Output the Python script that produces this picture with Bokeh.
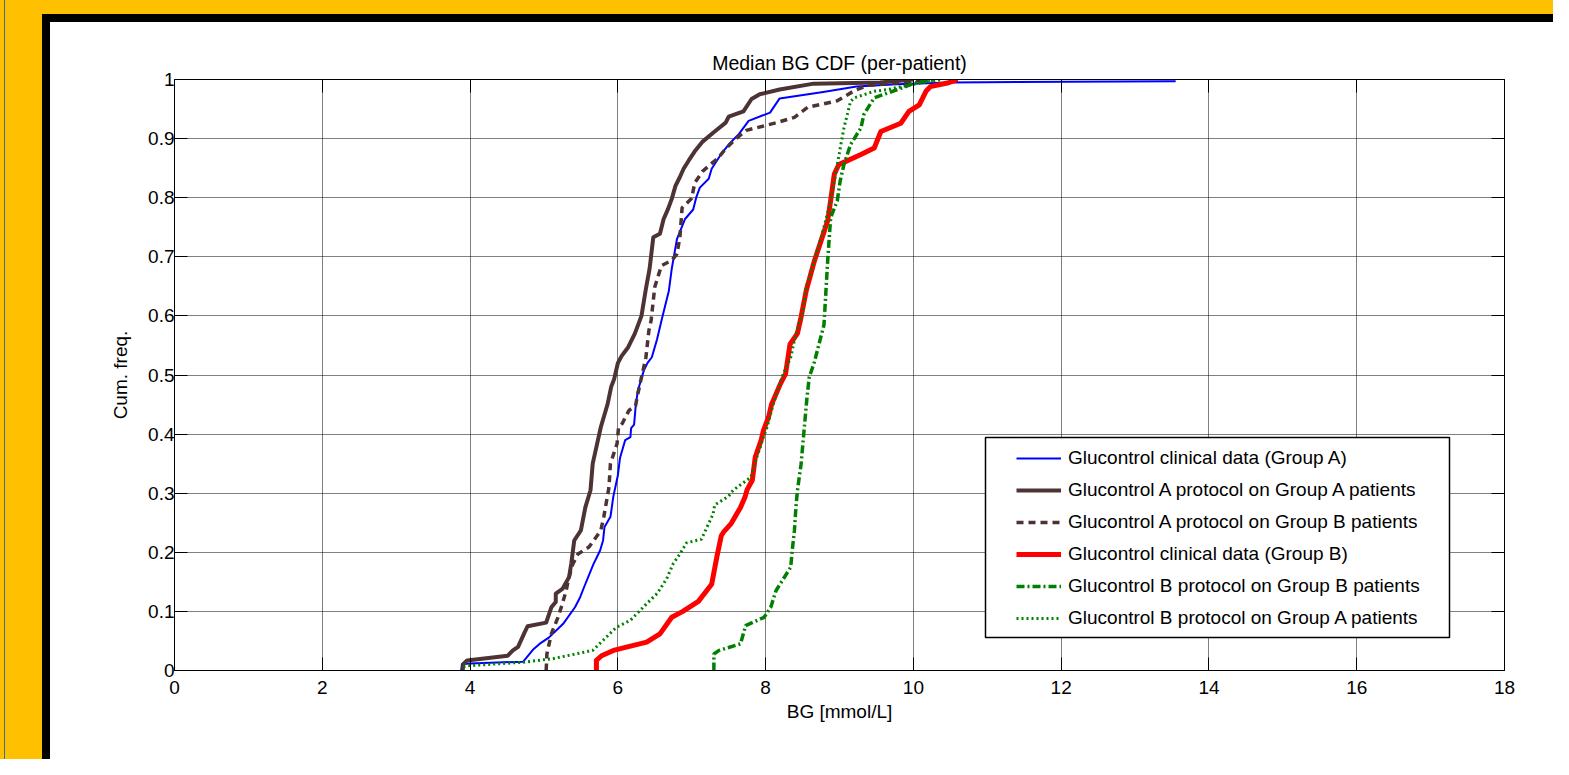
from bokeh.plotting import figure
from bokeh.models import (Range1d, FixedTicker, LinearAxis, Legend, LegendItem,
                          BoxAnnotation, Spacer)
from bokeh.layouts import row, column
from bokeh.embed import file_html
from bokeh.resources import INLINE

# ---------------- data ----------------
title_text = "Median BG CDF (per-patient)"
x_label = "BG [mmol/L]"
y_label = "Cum. freq."
x_ticks = [0, 2, 4, 6, 8, 10, 12, 14, 16, 18]
y_ticks = [0, 0.1, 0.2, 0.3, 0.4, 0.5, 0.6, 0.7, 0.8, 0.9, 1]
y_tick_labels = ["0", "0.1", "0.2", "0.3", "0.4", "0.5", "0.6", "0.7", "0.8", "0.9", "1"]

series_names = [
    "Glucontrol clinical data (Group A)",
    "Glucontrol A protocol on Group A patients",
    "Glucontrol A protocol on Group B patients",
    "Glucontrol clinical data (Group B)",
    "Glucontrol B protocol on Group B patients",
    "Glucontrol B protocol on Group A patients",
]

clinA_x = [3.88, 3.89, 4.00, 4.72, 4.85, 4.94, 5.07, 5.26, 5.42, 5.49, 5.54, 5.67, 5.76, 5.80,
           5.82, 5.90, 5.94, 6.00, 6.03, 6.10, 6.17, 6.18, 6.22, 6.24, 6.27, 6.35, 6.40, 6.46,
           6.53, 6.60, 6.69, 6.73, 6.80, 6.91, 7.02, 7.06, 7.11, 7.23, 7.27, 7.41, 7.50, 7.64,
           7.77, 8.06, 8.19, 8.78, 9.23, 9.77, 10.5, 13.55]
clinA_y = [0.0, 0.011, 0.012, 0.015, 0.035, 0.045, 0.056, 0.079, 0.107, 0.124, 0.14, 0.18, 0.203,
           0.22, 0.243, 0.26, 0.295, 0.33, 0.36, 0.39, 0.395, 0.41, 0.416, 0.445, 0.473, 0.507,
           0.52, 0.53, 0.56, 0.597, 0.642, 0.68, 0.73, 0.764, 0.78, 0.80, 0.817, 0.832, 0.849,
           0.876, 0.89, 0.908, 0.93, 0.944, 0.968, 0.979, 0.988, 0.992, 0.995, 0.997]

protAA_x = [3.90, 3.91, 3.96, 4.51, 4.58, 4.65, 4.74, 4.78, 5.03, 5.10, 5.16, 5.16, 5.25, 5.34,
            5.37, 5.41, 5.50, 5.56, 5.63, 5.66, 5.72, 5.77, 5.86, 5.91, 5.95, 6.00, 6.05, 6.14,
            6.23, 6.32, 6.38, 6.43, 6.48, 6.57, 6.62, 6.68, 6.73, 6.78, 6.84, 6.89, 6.96, 7.05,
            7.14, 7.29, 7.46, 7.50, 7.70, 7.81, 7.92, 8.19, 8.65, 9.55, 10.0]
protAA_y = [0.0, 0.011, 0.017, 0.025, 0.034, 0.04, 0.065, 0.075, 0.081, 0.107, 0.116, 0.13, 0.138,
            0.158, 0.181, 0.22, 0.237, 0.276, 0.305, 0.35, 0.384, 0.412, 0.45, 0.48, 0.493, 0.52,
            0.532, 0.547, 0.57, 0.60, 0.646, 0.68, 0.733, 0.739, 0.764, 0.781, 0.798, 0.82, 0.835,
            0.849, 0.863, 0.88, 0.894, 0.91, 0.927, 0.937, 0.946, 0.967, 0.975, 0.983, 0.993,
            0.995, 1.0]

protAB_x = [5.03, 5.04, 5.07, 5.10, 5.19, 5.25, 5.30, 5.34, 5.39, 5.46, 5.61, 5.77, 5.81, 5.88,
            5.90, 5.99, 6.01, 6.06, 6.15, 6.24, 6.26, 6.35, 6.38, 6.42, 6.45, 6.50, 6.59, 6.73,
            6.80, 6.84, 6.87, 7.00, 7.04, 7.15, 7.27, 7.35, 7.46, 7.60, 7.74, 8.15, 8.39, 8.57,
            8.97, 9.20, 9.38, 9.65, 10.0, 10.2]
protAB_y = [0.0, 0.028, 0.045, 0.062, 0.09, 0.113, 0.135, 0.158, 0.18, 0.197, 0.209, 0.237, 0.26,
            0.31, 0.35, 0.384, 0.412, 0.418, 0.44, 0.448, 0.462, 0.513, 0.53, 0.575, 0.592, 0.649,
            0.685, 0.694, 0.705, 0.733, 0.783, 0.799, 0.825, 0.845, 0.858, 0.866, 0.883, 0.90,
            0.914, 0.927, 0.936, 0.953, 0.964, 0.981, 0.99, 0.993, 0.997, 1.0]

clinB_x = [5.71, 5.71, 5.78, 5.94, 6.39, 6.57, 6.73, 6.88, 7.09, 7.27, 7.34, 7.40, 7.43, 7.53,
           7.66, 7.72, 7.75, 7.82, 7.86, 7.94, 7.97, 8.04, 8.08, 8.20, 8.27, 8.33, 8.43, 8.48,
           8.55, 8.66, 8.75, 8.84, 8.88, 8.93, 8.99, 9.29, 9.47, 9.56, 9.83, 9.94, 10.08, 10.17,
           10.23, 10.46, 10.6]
clinB_y = [0.0, 0.017, 0.025, 0.034, 0.048, 0.062, 0.09, 0.10, 0.117, 0.146, 0.192, 0.228, 0.234,
           0.248, 0.276, 0.293, 0.306, 0.322, 0.361, 0.39, 0.406, 0.429, 0.45, 0.485, 0.502,
           0.552, 0.570, 0.598, 0.643, 0.693, 0.727, 0.761, 0.795, 0.840, 0.856, 0.873, 0.884,
           0.912, 0.926, 0.946, 0.957, 0.98, 0.988, 0.994, 1.0]

protBB_x = [7.30, 7.30, 7.37, 7.66, 7.73, 7.98, 8.07, 8.14, 8.34, 8.36, 8.39, 8.41, 8.43, 8.48,
            8.52, 8.56, 8.59, 8.66, 8.79, 8.84, 8.88, 8.97, 9.01, 9.06, 9.15, 9.29, 9.33, 9.47,
            9.65, 9.83, 10.01, 10.3]
protBB_y = [0.0, 0.028, 0.034, 0.045, 0.076, 0.09, 0.107, 0.135, 0.175, 0.203, 0.237, 0.276, 0.304,
            0.349, 0.406, 0.462, 0.496, 0.522, 0.585, 0.693, 0.766, 0.795, 0.829, 0.856, 0.89,
            0.918, 0.941, 0.969, 0.977, 0.985, 0.994, 1.0]

protBA_x = [3.91, 3.96, 4.72, 5.12, 5.66, 5.98, 6.17, 6.39, 6.53, 6.66, 6.75, 6.84, 6.93, 7.13,
            7.29, 7.31, 7.50, 7.56, 7.80, 7.88, 7.92, 7.97, 8.02, 8.09, 8.12, 8.22, 8.34, 8.41,
            8.50, 8.55, 8.66, 8.79, 8.88, 8.97, 9.01, 9.06, 9.15, 9.20, 9.47, 9.65, 10.0, 10.4]
protBA_y = [0.006, 0.008, 0.014, 0.02, 0.034, 0.073, 0.085, 0.113, 0.13, 0.155, 0.181, 0.197, 0.216,
            0.222, 0.265, 0.28, 0.295, 0.305, 0.327, 0.361, 0.375, 0.395, 0.412, 0.445, 0.457,
            0.496, 0.53, 0.570, 0.604, 0.649, 0.693, 0.75, 0.795, 0.856, 0.884, 0.918, 0.963,
            0.969, 0.98, 0.983, 0.992, 1.0]

# ---------------- styles ----------------
FONT = "Liberation Sans"
FS = "19px"
YELLOW = "#FFC000"
BROWN = "#4D3333"
GREEN = "#008000"

p = figure(width=1503, height=737, x_range=Range1d(0, 18), y_range=Range1d(0, 1),
           output_backend="svg", toolbar_location=None,
           min_border_left=124, min_border_right=49, min_border_top=57, min_border_bottom=89,
           background_fill_color="white", border_fill_color="white",
           outline_line_color="black", outline_line_width=1)

p.title.text = title_text
p.title.align = "center"
p.title.text_font = FONT
p.title.text_font_size = "19.5px"
p.title.text_font_style = "normal"
p.title.text_color = "black"
p.title.standoff = 12

for ax in (p.xaxis[0], p.yaxis[0]):
    ax.axis_line_color = "black"
    ax.major_tick_line_color = "black"
    ax.major_tick_in = 13
    ax.major_tick_out = 0
    ax.minor_tick_line_color = None
    ax.major_label_text_font = FONT
    ax.major_label_text_font_size = FS
    ax.major_label_text_color = "black"
    ax.axis_label_text_font = FONT
    ax.axis_label_text_font_size = FS
    ax.axis_label_text_font_style = "normal"
    ax.axis_label_text_color = "black"

p.xaxis.ticker = FixedTicker(ticks=x_ticks)
p.yaxis.ticker = FixedTicker(ticks=y_ticks)
p.yaxis.major_label_overrides = {t: s for t, s in zip(y_ticks, y_tick_labels)}
p.xaxis.major_label_overrides = {t: str(t) for t in x_ticks}
p.xaxis.axis_label = x_label
p.yaxis.axis_label = y_label
p.xaxis.major_label_standoff = 10
p.xaxis.axis_label_standoff = 4
p.yaxis.major_label_standoff = 0
p.yaxis.axis_label_standoff = 14

# box ticks on top / right
top_ax = LinearAxis(ticker=FixedTicker(ticks=x_ticks),
                    major_label_overrides={t: "" for t in x_ticks})
right_ax = LinearAxis(ticker=FixedTicker(ticks=y_ticks),
                      major_label_overrides={t: "" for t in y_ticks})
for ax in (top_ax, right_ax):
    ax.axis_line_color = "black"
    ax.major_tick_line_color = "black"
    ax.major_tick_in = 13
    ax.major_tick_out = 0
    ax.minor_tick_line_color = None
    ax.major_label_standoff = 0
    ax.major_label_text_font_size = "1px"
p.add_layout(top_ax, "above")
p.add_layout(right_ax, "right")

for g in (p.xgrid[0], p.ygrid[0]):
    g.grid_line_color = "black"
    g.grid_line_dash = "1 1"
    g.grid_line_width = 1
    g.grid_line_alpha = 1.0
p.xgrid.ticker = FixedTicker(ticks=x_ticks)
p.ygrid.ticker = FixedTicker(ticks=y_ticks)

r1 = p.line(clinA_x, clinA_y, line_color="#0000FF", line_width=2, line_join="round")
r2 = p.line(protAA_x, protAA_y, line_color=BROWN, line_width=4, line_join="round")
r3 = p.line(protAB_x, protAB_y, line_color=BROWN, line_width=3.5, line_dash="7 5")
r4 = p.line(clinB_x, clinB_y, line_color="#FF0000", line_width=5, line_join="round")
r5 = p.line(protBB_x, protBB_y, line_color=GREEN, line_width=3.5, line_dash="8 3 2 3")
r6 = p.line(protBA_x, protBA_y, line_color=GREEN, line_width=3, line_dash="2 3")
dot = p.scatter(x=[], y=[], marker="circle", size=8, fill_color=GREEN, line_color=GREEN)

box = BoxAnnotation(left=811, right=1275, bottom=33, top=233,
                    left_units="screen", right_units="screen",
                    bottom_units="screen", top_units="screen",
                    fill_color="white", fill_alpha=1.0,
                    line_color="black", line_width=1.5, line_alpha=1.0)
p.add_layout(box, "center")

items = [
    LegendItem(label=series_names[0], renderers=[r1]),
    LegendItem(label=series_names[1], renderers=[r2]),
    LegendItem(label=series_names[2], renderers=[r3]),
    LegendItem(label=series_names[3], renderers=[r4]),
    LegendItem(label=series_names[4], renderers=[r5, dot]),
    LegendItem(label=series_names[5], renderers=[r6, dot]),
]
legend = Legend(items=items, location=(842, 41), padding=0, margin=0, spacing=10,
                glyph_width=45, glyph_height=20, label_height=20, label_standoff=7,
                label_text_font=FONT, label_text_font_size=FS, label_text_color="black",
                border_line_color=None, background_fill_alpha=0)
p.add_layout(legend, "center")

# ---------------- frame around the figure ----------------
left_y1 = Spacer(width=4, height=759, styles={"background-color": YELLOW})
left_bl = Spacer(width=1, height=759, styles={"background-color": "#3A6EA5"})
left_y2 = Spacer(width=37, height=759, styles={"background-color": YELLOW})
top_y = Spacer(width=1511, height=14, styles={"background-color": YELLOW})
top_b = Spacer(width=1511, height=8, styles={"background-color": "black"})
left_b = Spacer(width=8, height=737, styles={"background-color": "black"})
page = row(left_y1, left_bl, left_y2,
           column(top_y, top_b, row(left_b, p, spacing=0), spacing=0), spacing=0)

open("out.html", "w").write(file_html(page, INLINE))
